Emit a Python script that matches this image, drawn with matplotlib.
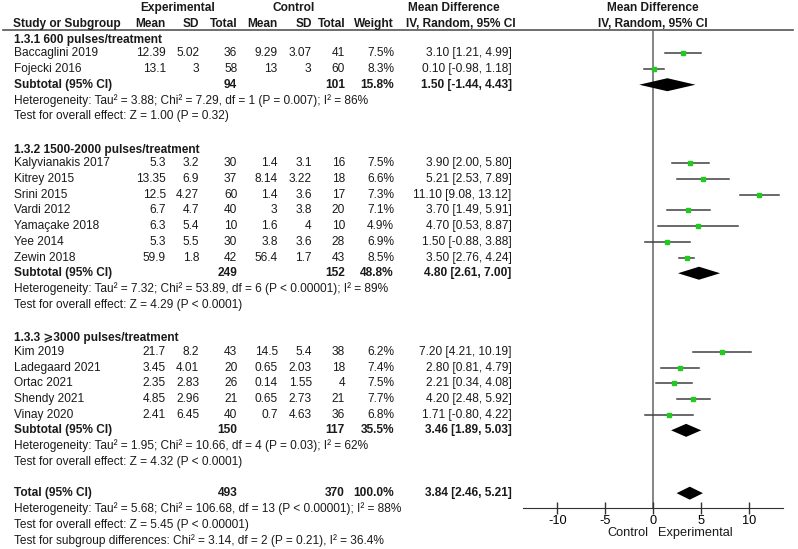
import matplotlib
matplotlib.use("Agg")
import matplotlib.pyplot as plt

plt.rcParams['font.family'] = ['Liberation Sans', 'DejaVu Sans']

# ---- data ----
groups = ["1.3.1 600 pulses/treatment",
          "1.3.2 1500-2000 pulses/treatment",
          "1.3.3 \u2a7e3000 pulses/treatment"]

studies = [["Baccaglini 2019", "Fojecki 2016"],
           ["Kalyvianakis 2017", "Kitrey 2015", "Srini 2015", "Vardi 2012",
            "Yama\u00e7ake 2018", "Yee 2014", "Zewin 2018"],
           ["Kim 2019", "Ladegaard 2021", "Ortac 2021", "Shendy 2021", "Vinay 2020"]]

exp_mean = [[12.39, 13.1], [5.3, 13.35, 12.5, 6.7, 6.3, 5.3, 59.9], [21.7, 3.45, 2.35, 4.85, 2.41]]
exp_sd = [[5.02, 3], [3.2, 6.9, 4.27, 4.7, 5.4, 5.5, 1.8], [8.2, 4.01, 2.83, 2.96, 6.45]]
exp_n = [[36, 58], [30, 37, 60, 40, 10, 30, 42], [43, 20, 26, 21, 40]]
ctl_mean = [[9.29, 13], [1.4, 8.14, 1.4, 3, 1.6, 3.8, 56.4], [14.5, 0.65, 0.14, 0.65, 0.7]]
ctl_sd = [[3.07, 3], [3.1, 3.22, 3.6, 3.8, 4, 3.6, 1.7], [5.4, 2.03, 1.55, 2.73, 4.63]]
ctl_n = [[41, 60], [16, 18, 17, 20, 10, 28, 43], [38, 18, 4, 21, 36]]
weight = [[7.5, 8.3], [7.5, 6.6, 7.3, 7.1, 4.9, 6.9, 8.5], [6.2, 7.4, 7.5, 7.7, 6.8]]
md = [[3.10, 0.10], [3.90, 5.21, 11.10, 3.70, 4.70, 1.50, 3.50], [7.20, 2.80, 2.21, 4.20, 1.71]]
lo = [[1.21, -0.98], [2.00, 2.53, 9.08, 1.49, 0.53, -0.88, 2.76], [4.21, 0.81, 0.34, 2.48, -0.80]]
hi = [[4.99, 1.18], [5.80, 7.89, 13.12, 5.91, 8.87, 3.88, 4.24], [10.19, 4.79, 4.08, 5.92, 4.22]]

sub_exp_n = [94, 249, 150]
sub_ctl_n = [101, 152, 117]
sub_weight = [15.8, 48.8, 35.5]
sub_md = [1.50, 4.80, 3.46]
sub_lo = [-1.44, 2.61, 1.89]
sub_hi = [4.43, 7.00, 5.03]
sub_het = ["Heterogeneity: Tau\u00b2 = 3.88; Chi\u00b2 = 7.29, df = 1 (P = 0.007); I\u00b2 = 86%",
           "Heterogeneity: Tau\u00b2 = 7.32; Chi\u00b2 = 53.89, df = 6 (P < 0.00001); I\u00b2 = 89%",
           "Heterogeneity: Tau\u00b2 = 1.95; Chi\u00b2 = 10.66, df = 4 (P = 0.03); I\u00b2 = 62%"]
sub_test = ["Test for overall effect: Z = 1.00 (P = 0.32)",
            "Test for overall effect: Z = 4.29 (P < 0.0001)",
            "Test for overall effect: Z = 4.32 (P < 0.0001)"]

tot_exp_n, tot_ctl_n, tot_weight = 493, 370, 100.0
tot_md, tot_lo, tot_hi = 3.84, 2.46, 5.21
tot_notes = ["Heterogeneity: Tau\u00b2 = 5.68; Chi\u00b2 = 106.68, df = 13 (P < 0.00001); I\u00b2 = 88%",
             "Test for overall effect: Z = 5.45 (P < 0.00001)",
             "Test for subgroup differences: Chi\u00b2 = 3.14, df = 2 (P = 0.21), I\u00b2 = 36.4%"]

xticks = [-10, -5, 0, 5, 10]

# ---- layout (pixels) ----
W, H = 798, 549
y0, dy = 53.3, 15.71
fs = 8.55
col_x = [165.7, 199.3, 237.3, 277.7, 311.7, 345.0, 394.0, 511.7]
x_left = 14
ax_left, ax_right = 522.7, 783.3
ax_top, ax_bot = 30, 508
zero_col = '#707070'
ci_col = '#404040'

fig = plt.figure(figsize=(W / 100, H / 100), dpi=100)
tx = fig.add_axes([0, 0, 1, 1])
tx.set_xlim(0, W)
tx.set_ylim(H, 0)
tx.axis('off')

fa = fig.add_axes([ax_left / W, (H - ax_bot) / H, (ax_right - ax_left) / W, (ax_bot - ax_top) / H])
fa.set_xlim(-13.6, 13.6)
fa.set_ylim(ax_bot, ax_top)
fa.patch.set_alpha(0)
for s in ['top', 'left', 'right']:
    fa.spines[s].set_visible(False)
fa.spines['bottom'].set_color('#333333')
fa.set_yticks([])
fa.set_xticks(xticks)
fa.set_xticklabels([str(t) for t in xticks])
fa.tick_params(axis='x', direction='inout', length=9, width=1, color='#333333',
               labelsize=fs + 0.6, pad=0.5)
fa.axvline(0, color=zero_col, lw=1.2, zorder=1)


def txt(x, y, s, ha='left', bold=False, size=fs):
    tx.text(x, y, s, ha=ha, va='center', fontsize=size,
            fontweight='bold' if bold else 'normal', color='#1a1a1a')


def diamond(m, l, h, y):
    fa.fill([l, m, h, m], [y, y - 6.5, y, y + 6.5], color='black', lw=0, zorder=3)


# headers
txt(177.5, 8, "Experimental", ha='center', bold=True)
txt(293.3, 8, "Control", ha='center', bold=True)
txt(454.3, 8, "Mean Difference", ha='center', bold=True)
txt(652.5, 8, "Mean Difference", ha='center', bold=True)
txt(13, 24, "Study or Subgroup", bold=True)
for x, s in zip(col_x[:7], ["Mean", "SD", "Total", "Mean", "SD", "Total", "Weight"]):
    txt(x, 24, s, ha='right', bold=True)
txt(461, 24, "IV, Random, 95% CI", ha='center', bold=True)
txt(652.5, 24, "IV, Random, 95% CI", ha='center', bold=True)
tx.plot([3, 793], [ax_top, ax_top], color='#555555', lw=1.2)

k = -1
for g in range(len(groups)):
    y = y0 + k * dy
    txt(x_left, y + 2, groups[g], bold=True)
    k += 1
    for i, name in enumerate(studies[g]):
        y = y0 + k * dy
        txt(x_left, y, name)
        vals = [f"{exp_mean[g][i]:g}", f"{exp_sd[g][i]:g}", f"{exp_n[g][i]}",
                f"{ctl_mean[g][i]:g}", f"{ctl_sd[g][i]:g}", f"{ctl_n[g][i]}",
                f"{weight[g][i]:.1f}%",
                f"{md[g][i]:.2f} [{lo[g][i]:.2f}, {hi[g][i]:.2f}]"]
        for x, s in zip(col_x, vals):
            txt(x, y, s, ha='right')
        fa.plot([lo[g][i], hi[g][i]], [y, y], color=ci_col, lw=1.1, zorder=2)
        fa.plot(md[g][i], y, marker='s', ms=3.0, color='#1ecb1e', mec='#1ecb1e', zorder=4)
        k += 1
    y = y0 + k * dy
    txt(x_left, y, "Subtotal (95% CI)", bold=True)
    txt(col_x[2], y, str(sub_exp_n[g]), ha='right', bold=True)
    txt(col_x[5], y, str(sub_ctl_n[g]), ha='right', bold=True)
    txt(col_x[6], y, f"{sub_weight[g]:.1f}%", ha='right', bold=True)
    txt(col_x[7], y, f"{sub_md[g]:.2f} [{sub_lo[g]:.2f}, {sub_hi[g]:.2f}]", ha='right', bold=True)
    diamond(sub_md[g], sub_lo[g], sub_hi[g], y)
    k += 1
    txt(x_left, y0 + k * dy, sub_het[g])
    k += 1
    txt(x_left, y0 + k * dy, sub_test[g])
    k += 2

y = y0 + k * dy
txt(x_left, y, "Total (95% CI)", bold=True)
txt(col_x[2], y, str(tot_exp_n), ha='right', bold=True)
txt(col_x[5], y, str(tot_ctl_n), ha='right', bold=True)
txt(col_x[6], y, f"{tot_weight:.1f}%", ha='right', bold=True)
txt(col_x[7], y, f"{tot_md:.2f} [{tot_lo:.2f}, {tot_hi:.2f}]", ha='right', bold=True)
diamond(tot_md, tot_lo, tot_hi, y)
for note in tot_notes:
    k += 1
    txt(x_left, y0 + k * dy, note)

txt(648, 533, "Control", ha='right', size=fs + 0.6)
txt(658, 533, "Experimental", size=fs + 0.6)

fig.savefig("out.png", dpi=100)
